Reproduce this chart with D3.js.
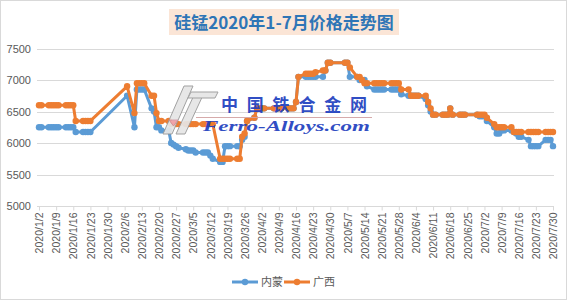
<!DOCTYPE html>
<html>
<head>
<meta charset="utf-8">
<script src="https://d3js.org/d3.v7.min.js"></script>
<style>
  body { margin: 0; background: #fff; }
  svg { display: block; font-family: "Liberation Sans", Arial, sans-serif; }
</style>
</head>
<body>
<div id="chart"></div>
<script>
// trading days shown in the chart
const dates = [
  "2020/1/2","2020/1/3","2020/1/6","2020/1/7","2020/1/8","2020/1/9","2020/1/10","2020/1/13","2020/1/14","2020/1/15","2020/1/16","2020/1/17","2020/1/20","2020/1/21","2020/1/22","2020/1/23",
  "2020/2/7","2020/2/10","2020/2/11","2020/2/12","2020/2/13","2020/2/14","2020/2/17","2020/2/18","2020/2/19","2020/2/20","2020/2/21","2020/2/24","2020/2/25","2020/2/26","2020/2/27","2020/2/28",
  "2020/3/2","2020/3/3","2020/3/4","2020/3/5","2020/3/6","2020/3/9","2020/3/10","2020/3/11","2020/3/12","2020/3/13","2020/3/16","2020/3/17","2020/3/18","2020/3/19","2020/3/20","2020/3/23","2020/3/24","2020/3/25","2020/3/26","2020/3/27","2020/3/30","2020/3/31",
  "2020/4/1","2020/4/2","2020/4/3","2020/4/7","2020/4/8","2020/4/9","2020/4/10","2020/4/13","2020/4/14","2020/4/15","2020/4/16","2020/4/17","2020/4/20","2020/4/21","2020/4/22","2020/4/23","2020/4/24","2020/4/27","2020/4/28","2020/4/29","2020/4/30",
  "2020/5/6","2020/5/7","2020/5/8","2020/5/11","2020/5/12","2020/5/13","2020/5/14","2020/5/15","2020/5/18","2020/5/19","2020/5/20","2020/5/21","2020/5/22","2020/5/25","2020/5/26","2020/5/27","2020/5/28","2020/5/29",
  "2020/6/1","2020/6/2","2020/6/3","2020/6/4","2020/6/5","2020/6/8","2020/6/9","2020/6/10","2020/6/11","2020/6/12","2020/6/15","2020/6/16","2020/6/17","2020/6/18","2020/6/19","2020/6/22","2020/6/23","2020/6/24","2020/6/29","2020/6/30",
  "2020/7/1","2020/7/2","2020/7/3","2020/7/6","2020/7/7","2020/7/8","2020/7/9","2020/7/10","2020/7/13","2020/7/14","2020/7/15","2020/7/16","2020/7/17","2020/7/20","2020/7/21","2020/7/22","2020/7/23","2020/7/24","2020/7/27","2020/7/28","2020/7/29","2020/7/30"
];

// 内蒙
const neimeng = [
  6250,6250,6250,6250,6250,6250,6250,6250,6250,6250,6250,6175,6175,6175,6175,6175,
  6750,6250,6850,6850,6850,6850,6550,6500,6250,6250,6200,6200,6000,5975,5950,5925,
  5900,5880,5880,5880,5850,5850,5850,5850,5800,5750,5700,5700,5950,5950,5950,5950,5950,6050,6100,6350,6400,6550,
  6550,6550,6550,6550,6550,6550,6550,6550,6550,6550,6650,7050,7050,7050,7050,7050,7050,7050,7150,7275,7275,
  7275,7275,7050,7050,7000,7000,7000,6900,6850,6850,6850,6850,6850,6850,6850,6850,6850,6775,
  6750,6750,6750,6750,6750,6700,6600,6500,6450,6450,6450,6450,6450,6550,6450,6450,6450,6450,6450,6425,
  6425,6425,6350,6250,6150,6150,6200,6200,6200,6175,6150,6100,6100,6050,5950,5950,5950,5950,6050,6050,6050,5950
];

// 广西
const guangxi = [
  6600,6600,6600,6600,6600,6600,6600,6600,6600,6600,6600,6350,6350,6350,6350,6350,
  6900,6475,6950,6950,6950,6950,6750,6750,6475,6350,6350,6350,6300,6300,6300,6300,
  6300,6300,6300,6300,6300,6300,6300,6300,6300,6300,5750,5750,5750,5750,5750,5750,5750,6100,6150,6350,6400,6550,
  6550,6550,6550,6550,6550,6550,6550,6550,6550,6550,6650,7050,7100,7100,7100,7100,7125,7150,7150,7275,7275,
  7275,7275,7200,7050,7050,7000,6950,6950,6950,6950,6950,6950,6950,6950,6950,6950,6950,6850,
  6850,6750,6750,6750,6750,6750,6650,6550,6450,6450,6450,6450,6450,6550,6450,6450,6450,6450,6450,6450,
  6450,6450,6400,6300,6250,6250,6250,6250,6250,6175,6175,6175,6175,6175,6175,6175,6175,6175,6175,6175,6175,6175
];

const tickLabels = [
  "2020/1/2","2020/1/9","2020/1/16","2020/1/23","2020/1/30","2020/2/6","2020/2/13","2020/2/20","2020/2/27",
  "2020/3/5","2020/3/12","2020/3/19","2020/3/26","2020/4/2","2020/4/9","2020/4/16","2020/4/23","2020/4/30",
  "2020/5/7","2020/5/14","2020/5/21","2020/5/28","2020/6/4","2020/6/11","2020/6/18","2020/6/25",
  "2020/7/2","2020/7/9","2020/7/16","2020/7/23","2020/7/30"
];
const yTicks = [5000, 5500, 6000, 6500, 7000, 7500];
const seriesNames = ["内蒙", "广西"];
const colors = ["#5B9BD5", "#ED7D31"];

const width = 570, height = 302;
const parseDate = d3.timeParse("%Y/%m/%d");

const svg = d3.select("#chart").append("svg")
  .attr("width", width)
  .attr("height", height);

// chart frame
svg.append("rect")
  .attr("x", 0.5).attr("y", 0.5)
  .attr("width", 566).attr("height", 299)
  .attr("fill", "#fff")
  .attr("stroke", "#D9D9D9");

const x = d3.scaleTime()
  .domain([parseDate(tickLabels[0]), parseDate(tickLabels[tickLabels.length - 1])])
  .range([39, 553]);

const y = d3.scaleLinear()
  .domain([5000, 7500])
  .range([206, 48.5]);

// gridlines
svg.append("g")
  .selectAll("line")
  .data(yTicks.slice(1))
  .join("line")
  .attr("x1", 37).attr("x2", 554)
  .attr("y1", d => Math.round(y(d)) + 0.5)
  .attr("y2", d => Math.round(y(d)) + 0.5)
  .attr("stroke", "#D9D9D9");

// y axis labels
const yAxis = svg.append("g")
  .attr("transform", "translate(37,0)")
  .call(d3.axisLeft(y).tickValues(yTicks).tickFormat(d3.format("d")).tickSize(0).tickPadding(6));
yAxis.select(".domain").remove();
yAxis.selectAll("text")
  .attr("fill", "#595959")
  .style("font-size", "11px");

// x axis
const xAxis = svg.append("g")
  .attr("transform", "translate(0,206.5)")
  .call(d3.axisBottom(x).tickValues(tickLabels.map(parseDate)).tickSize(4)
    .tickFormat(d3.timeFormat("%Y/%-m/%-d")));
xAxis.select(".domain")
  .attr("stroke", "#D9D9D9")
  .attr("d", "M37,0H554");
xAxis.selectAll(".tick line").attr("stroke", "#D9D9D9");
xAxis.selectAll("text")
  .attr("fill", "#595959")
  .style("font-size", "10.5px")
  .attr("text-anchor", "end")
  .attr("transform", "rotate(-90)")
  .attr("x", -6)
  .attr("y", 0)
  .attr("dy", "0.35em");

// series
const seriesData = [neimeng, guangxi].map(vals => vals.map((v, i) => ({ date: parseDate(dates[i]), v })));

const line = d3.line()
  .x(d => x(d.date))
  .y(d => y(d.v));

seriesData.forEach((data, s) => {
  const g = svg.append("g");
  g.append("path")
    .datum(data)
    .attr("fill", "none")
    .attr("stroke", colors[s])
    .attr("stroke-width", 3)
    .attr("stroke-linejoin", "round")
    .attr("d", line);
  g.selectAll("circle")
    .data(data)
    .join("circle")
    .attr("cx", d => x(d.date))
    .attr("cy", d => y(d.v))
    .attr("r", 3.2)
    .attr("fill", colors[s]);
});

// watermark
const wm = svg.append("g").attr("opacity", 0.92);
wm.append("polygon")
  .attr("points", "163,134 172,134 193,86 184,86")
  .attr("fill", "#E6E6E6").attr("stroke", "#9A9A9A").attr("stroke-width", 1);
wm.append("polygon")
  .attr("points", "176,134 185,134 204,93 195,93")
  .attr("fill", "#E6E6E6").attr("stroke", "#9A9A9A").attr("stroke-width", 1);
wm.append("polygon")
  .attr("points", "191,92 218,92 215,98 188,98")
  .attr("fill", "#E6E6E6").attr("stroke", "#9A9A9A").attr("stroke-width", 1);
wm.append("polygon")
  .attr("points", "169,120 178,120 173.5,126")
  .attr("fill", "#F2A7B2").attr("stroke", "#C98A94").attr("stroke-width", 0.8);
wm.append("line")
  .attr("x1", 196).attr("x2", 372)
  .attr("y1", 117.5).attr("y2", 117.5)
  .attr("stroke", "#D3A3A3").attr("stroke-width", 1.2);
wm.append("text")
  .attr("x", 221).attr("y", 111)
  .attr("textLength", 146).attr("lengthAdjust", "spacing")
  .style("font-family", "'Noto Sans CJK SC', sans-serif")
  .style("font-weight", "bold")
  .style("font-size", "17px")
  .attr("fill", "#1F3FC0")
  .text("中国铁合金网");
wm.append("text")
  .attr("x", 203).attr("y", 131)
  .attr("textLength", 167).attr("lengthAdjust", "spacingAndGlyphs")
  .style("font-family", "'Liberation Serif', serif")
  .style("font-style", "italic")
  .style("font-weight", "bold")
  .style("font-size", "15px")
  .attr("fill", "#1F3FC0")
  .text("Ferro-Alloys.com");

// title
svg.append("rect")
  .attr("x", 169).attr("y", 9)
  .attr("width", 230).attr("height", 26)
  .attr("fill", "#FBE5D6");
svg.append("text")
  .attr("x", 284).attr("y", 28.5)
  .attr("text-anchor", "middle")
  .style("font-family", "'Noto Sans CJK SC', sans-serif")
  .style("font-weight", "bold")
  .style("font-size", "17px")
  .attr("fill", "#2E75B6")
  .text("硅锰2020年1-7月价格走势图");

// legend
const legend = svg.append("g").attr("transform", "translate(0,282)");
const legendX = [232, 284];
seriesNames.forEach((name, s) => {
  const lg = legend.append("g").attr("transform", `translate(${legendX[s]},0)`);
  lg.append("line")
    .attr("x1", 0).attr("x2", 26)
    .attr("stroke", colors[s]).attr("stroke-width", 3);
  lg.append("circle")
    .attr("cx", 13).attr("r", 3.2)
    .attr("fill", colors[s]);
  lg.append("text")
    .attr("x", 29).attr("dy", "0.35em")
    .style("font-family", "'Noto Sans CJK SC', sans-serif")
    .style("font-size", "11px")
    .attr("fill", "#595959")
    .text(name);
});
</script>
</body>
</html>
